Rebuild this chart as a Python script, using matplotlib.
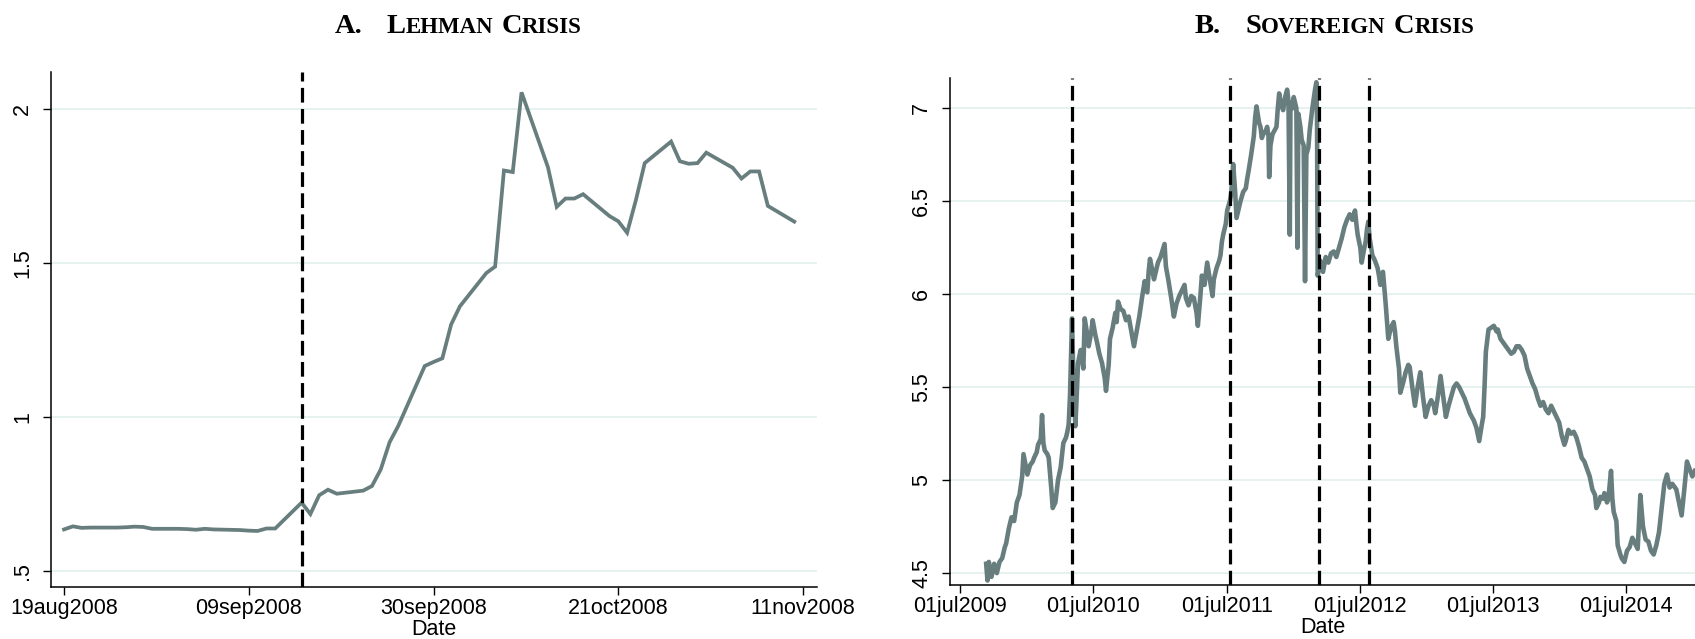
import matplotlib
matplotlib.use("Agg")
import matplotlib.pyplot as plt
from datetime import datetime, timedelta

# ---------------- Panel A data (Lehman crisis) ----------------
a_dates = ["2008-08-19", "2008-08-20", "2008-08-21", "2008-08-22", "2008-08-25",
           "2008-08-26", "2008-08-27", "2008-08-28", "2008-08-29", "2008-09-01",
           "2008-09-02", "2008-09-03", "2008-09-04", "2008-09-05", "2008-09-08",
           "2008-09-09", "2008-09-10", "2008-09-11", "2008-09-12", "2008-09-15",
           "2008-09-16", "2008-09-17", "2008-09-18", "2008-09-19", "2008-09-22",
           "2008-09-23", "2008-09-24", "2008-09-25", "2008-09-26", "2008-09-29",
           "2008-09-30", "2008-10-01", "2008-10-02", "2008-10-03", "2008-10-06",
           "2008-10-07", "2008-10-08", "2008-10-09", "2008-10-10", "2008-10-13",
           "2008-10-14", "2008-10-15", "2008-10-16", "2008-10-17", "2008-10-20",
           "2008-10-21", "2008-10-22", "2008-10-23", "2008-10-24", "2008-10-27",
           "2008-10-28", "2008-10-29", "2008-10-30", "2008-10-31", "2008-11-03",
           "2008-11-04", "2008-11-05", "2008-11-06", "2008-11-07", "2008-11-10"]
a_values = [0.634, 0.644, 0.639, 0.640, 0.640, 0.641, 0.643, 0.642, 0.636, 0.636,
            0.635, 0.633, 0.636, 0.634, 0.632, 0.630, 0.629, 0.637, 0.637, 0.721,
            0.684, 0.745, 0.763, 0.750, 0.760, 0.775, 0.829, 0.917, 0.971, 1.165,
            1.178, 1.190, 1.300, 1.359, 1.467, 1.488, 1.800, 1.795, 2.054, 1.811,
            1.682, 1.709, 1.709, 1.723, 1.652, 1.635, 1.598, 1.704, 1.824, 1.894,
            1.830, 1.822, 1.824, 1.858, 1.809, 1.774, 1.797, 1.797, 1.685, 1.634]
a_events = ["2008-09-15"]
a_xticks = ["2008-08-19", "2008-09-09", "2008-09-30", "2008-10-21", "2008-11-11"]
a_xticklabels = ["19aug2008", "09sep2008", "30sep2008", "21oct2008", "11nov2008"]
a_yticks = [0.5, 1.0, 1.5, 2.0]
a_yticklabels = [".5", "1", "1.5", "2"]
a_xlim = ["2008-08-17 12:00", "2008-11-12 14:00"]
a_ylim = [0.447, 2.12]

# ---------------- Panel B data (Sovereign crisis) ----------------
b_years = [2009.69, 2009.70, 2009.71, 2009.73, 2009.75, 2009.77, 2009.79, 2009.81, 2009.83, 2009.84,
           2009.86, 2009.88, 2009.90, 2009.92, 2009.94, 2009.96, 2009.97, 2010.00, 2010.02, 2010.04,
           2010.05, 2010.07, 2010.08, 2010.10, 2010.11, 2010.12, 2010.13, 2010.15, 2010.16, 2010.18,
           2010.19, 2010.21, 2010.23, 2010.25, 2010.27, 2010.29, 2010.30, 2010.31, 2010.32, 2010.335,
           2010.345, 2010.36, 2010.37, 2010.38, 2010.40, 2010.42, 2010.43, 2010.45, 2010.46, 2010.48,
           2010.49, 2010.51, 2010.52, 2010.54, 2010.56, 2010.58, 2010.59, 2010.61, 2010.62, 2010.64,
           2010.66, 2010.67, 2010.68, 2010.70, 2010.72, 2010.74, 2010.76, 2010.78, 2010.80, 2010.82,
           2010.84, 2010.86, 2010.88, 2010.89, 2010.90, 2010.91, 2010.92, 2010.94, 2010.95, 2010.97,
           2010.98, 2011.00, 2011.03, 2011.04, 2011.06, 2011.08, 2011.10, 2011.12, 2011.14, 2011.16,
           2011.18, 2011.19, 2011.21, 2011.23, 2011.25, 2011.27, 2011.28, 2011.30, 2011.31, 2011.33,
           2011.35, 2011.37, 2011.39, 2011.40, 2011.42, 2011.44, 2011.45, 2011.46, 2011.47, 2011.49,
           2011.50, 2011.52, 2011.53, 2011.545, 2011.56, 2011.57, 2011.59, 2011.60, 2011.62, 2011.64,
           2011.65, 2011.66, 2011.68, 2011.70, 2011.71, 2011.72, 2011.74, 2011.75, 2011.76, 2011.77,
           2011.79, 2011.80, 2011.81, 2011.815, 2011.825, 2011.84, 2011.855, 2011.87, 2011.88, 2011.89,
           2011.905, 2011.92, 2011.935, 2011.95, 2011.96, 2011.97, 2011.975, 2011.99, 2012.00, 2012.02,
           2012.028, 2012.035, 2012.05, 2012.06, 2012.075, 2012.085, 2012.095, 2012.11, 2012.12, 2012.13,
           2012.14, 2012.15, 2012.16, 2012.17, 2012.175, 2012.18, 2012.20, 2012.22, 2012.24, 2012.26,
           2012.28, 2012.30, 2012.32, 2012.34, 2012.36, 2012.38, 2012.40, 2012.42, 2012.44, 2012.46,
           2012.47, 2012.48, 2012.50, 2012.51, 2012.53, 2012.54, 2012.55, 2012.56, 2012.57, 2012.59,
           2012.61, 2012.63, 2012.64, 2012.65, 2012.66, 2012.67, 2012.69, 2012.71, 2012.73, 2012.75,
           2012.76, 2012.77, 2012.79, 2012.80, 2012.82, 2012.84, 2012.86, 2012.87, 2012.89, 2012.91,
           2012.93, 2012.95, 2012.97, 2012.99, 2013.01, 2013.03, 2013.05, 2013.06, 2013.08, 2013.10,
           2013.12, 2013.14, 2013.16, 2013.18, 2013.20, 2013.22, 2013.24, 2013.26, 2013.28, 2013.30,
           2013.32, 2013.35, 2013.37, 2013.39, 2013.41, 2013.42, 2013.43, 2013.44, 2013.45, 2013.46,
           2013.48, 2013.50, 2013.52, 2013.53, 2013.55, 2013.57, 2013.59, 2013.61, 2013.63, 2013.65,
           2013.67, 2013.69, 2013.71, 2013.73, 2013.75, 2013.77, 2013.79, 2013.81, 2013.83, 2013.85,
           2013.87, 2013.89, 2013.91, 2013.93, 2013.95, 2013.97, 2013.99, 2014.01, 2014.03, 2014.04,
           2014.06, 2014.08, 2014.10, 2014.12, 2014.14, 2014.16, 2014.18, 2014.20, 2014.22, 2014.24,
           2014.26, 2014.27, 2014.29, 2014.30, 2014.32, 2014.33, 2014.35, 2014.36, 2014.38, 2014.39,
           2014.40, 2014.42, 2014.43, 2014.45, 2014.46, 2014.48, 2014.50, 2014.52, 2014.54, 2014.56,
           2014.58, 2014.60, 2014.62, 2014.64, 2014.66, 2014.68, 2014.70, 2014.72, 2014.74, 2014.76,
           2014.78, 2014.80, 2014.82, 2014.84, 2014.87, 2014.89, 2014.91, 2014.93, 2014.95, 2014.96,
           2014.99, 2015.01]
b_values = [4.55, 4.46, 4.56, 4.48, 4.55, 4.50, 4.56, 4.58, 4.64, 4.66,
            4.74, 4.80, 4.78, 4.88, 4.92, 5.02, 5.14, 5.03, 5.08, 5.10,
            5.12, 5.15, 5.19, 5.22, 5.35, 5.20, 5.16, 5.14, 5.12, 4.95,
            4.85, 4.88, 5.00, 5.07, 5.20, 5.23, 5.26, 5.30, 5.46, 5.87,
            5.55, 5.29, 5.45, 5.63, 5.70, 5.60, 5.87, 5.78, 5.72, 5.80,
            5.86, 5.78, 5.75, 5.68, 5.63, 5.55, 5.48, 5.62, 5.76, 5.82,
            5.90, 5.85, 5.96, 5.92, 5.91, 5.86, 5.88, 5.80, 5.72, 5.80,
            5.88, 5.98, 6.07, 6.02, 6.01, 6.12, 6.19, 6.12, 6.08, 6.14,
            6.17, 6.20, 6.27, 6.15, 6.07, 5.98, 5.88, 5.95, 5.99, 6.02,
            6.05, 5.98, 5.94, 5.99, 5.98, 5.90, 5.83, 6.00, 6.10, 6.05,
            6.17, 6.08, 5.99, 6.08, 6.14, 6.18, 6.21, 6.28, 6.32, 6.38,
            6.45, 6.50, 6.54, 6.70, 6.55, 6.41, 6.47, 6.50, 6.55, 6.57,
            6.62, 6.66, 6.75, 6.85, 6.95, 7.01, 6.92, 6.90, 6.84, 6.86,
            6.88, 6.90, 6.85, 6.63, 6.80, 6.86, 6.88, 6.90, 7.00, 7.08,
            7.02, 6.99, 7.06, 7.10, 7.04, 6.32, 7.03, 7.00, 7.06, 7.00,
            6.25, 6.97, 6.90, 6.83, 6.80, 6.07, 6.75, 6.79, 6.88, 6.94,
            7.00, 7.05, 7.10, 7.14, 6.95, 6.10, 6.18, 6.12, 6.20, 6.17,
            6.22, 6.23, 6.20, 6.25, 6.30, 6.36, 6.40, 6.43, 6.40, 6.45,
            6.38, 6.32, 6.25, 6.17, 6.25, 6.28, 6.35, 6.39, 6.30, 6.21,
            6.18, 6.14, 6.10, 6.05, 6.10, 6.12, 5.95, 5.76, 5.82, 5.85,
            5.80, 5.72, 5.60, 5.47, 5.52, 5.58, 5.62, 5.61, 5.50, 5.40,
            5.50, 5.58, 5.45, 5.34, 5.40, 5.43, 5.40, 5.36, 5.45, 5.56,
            5.45, 5.34, 5.40, 5.45, 5.50, 5.52, 5.50, 5.47, 5.44, 5.40,
            5.36, 5.32, 5.28, 5.21, 5.30, 5.34, 5.50, 5.69, 5.75, 5.81,
            5.82, 5.83, 5.80, 5.81, 5.76, 5.74, 5.72, 5.70, 5.68, 5.69,
            5.72, 5.72, 5.70, 5.67, 5.60, 5.56, 5.52, 5.49, 5.44, 5.40,
            5.42, 5.38, 5.36, 5.40, 5.37, 5.34, 5.31, 5.24, 5.19, 5.21,
            5.27, 5.25, 5.26, 5.23, 5.18, 5.12, 5.10, 5.06, 5.02, 4.95,
            4.92, 4.85, 4.88, 4.91, 4.90, 4.93, 4.88, 4.90, 5.05, 4.90,
            4.83, 4.78, 4.65, 4.60, 4.58, 4.56, 4.62, 4.64, 4.69, 4.66,
            4.63, 4.92, 4.75, 4.68, 4.67, 4.62, 4.60, 4.65, 4.72, 4.85,
            4.98, 5.03, 4.96, 4.98, 4.95, 4.88, 4.81, 4.95, 5.10, 5.08,
            5.02, 5.05]
b_events = ["2010-05-02", "2011-07-11", "2012-03-09", "2012-07-26"]
b_xticks = ["2009-07-01", "2010-07-01", "2011-07-01", "2012-07-01", "2013-07-01", "2014-07-01"]
b_xticklabels = ["01jul2009", "01jul2010", "01jul2011", "01jul2012", "01jul2013", "01jul2014"]
b_yticks = [4.5, 5.0, 5.5, 6.0, 6.5, 7.0]
b_yticklabels = ["4.5", "5", "5.5", "6", "6.5", "7"]
b_xlim = ["2009-06-03", "2015-01-05"]
b_ylim = [4.436, 7.163]

LINE_COLOR = "#687e7e"
GRID_COLOR = "#e4f1ef"


def to_dt(s):
    return datetime.fromisoformat(s)


def year_to_dt(y):
    yr = int(y)
    return datetime(yr, 1, 1) + timedelta(days=(y - yr) * 365.25)


plt.rcParams["font.family"] = ["Liberation Sans", "DejaVu Sans"]

fig = plt.figure(figsize=(16.95, 6.39), dpi=100)
axA = fig.add_axes([0.0300, 0.0814, 0.4520, 0.8059])
axB = fig.add_axes([0.5605, 0.0845, 0.4395, 0.7935])


def style(ax, xticks, xlabels, yticks, ylabels, xlim, ylim):
    for s in ("top", "right"):
        ax.spines[s].set_visible(False)
    for s in ("left", "bottom"):
        ax.spines[s].set_linewidth(1.1)
        ax.spines[s].set_color("black")
    ax.set_xticks([to_dt(d) for d in xticks])
    ax.set_xticklabels(xlabels, fontsize=15.5)
    ax.set_yticks(yticks)
    ax.set_yticklabels(ylabels, fontsize=15.5, rotation=90, va="center")
    ax.tick_params(axis="both", direction="out", length=5.8, width=1.0, color="black")
    ax.tick_params(axis="y", pad=7)
    ax.tick_params(axis="x", pad=2)
    ax.set_xlim(to_dt(xlim[0]), to_dt(xlim[1]))
    ax.set_ylim(*ylim)
    ax.yaxis.grid(True, color=GRID_COLOR, lw=1.3)
    ax.set_axisbelow(True)
    ax.set_xlabel("Date", fontsize=15.5, labelpad=0)


# Panel A
axA.plot([to_dt(d) for d in a_dates], a_values, color=LINE_COLOR, lw=2.7,
         solid_joinstyle="miter", zorder=3)
for d in a_events:
    axA.axvline(to_dt(d), color="black", lw=2.3, dashes=(4.6, 2.0), zorder=4)
style(axA, a_xticks, a_xticklabels, a_yticks, a_yticklabels, a_xlim, a_ylim)

# Panel B
axB.plot([year_to_dt(y) for y in b_years], b_values, color=LINE_COLOR, lw=3.3,
         zorder=3)
for d in b_events:
    axB.axvline(to_dt(d), color="black", lw=2.3, dashes=(4.6, 2.0), zorder=4)
style(axB, b_xticks, b_xticklabels, b_yticks, b_yticklabels, b_xlim, b_ylim)

# Titles with small caps built from pieces
renderer = fig.canvas.get_renderer()
BIG, SMALL = 20.5, 16.5
W, H = fig.get_size_inches() * fig.dpi


def small_caps_title(x_px, base_px, pieces):
    x = x_px
    for text, size, gap in pieces:
        x += gap
        t = fig.text(x / W, 1 - base_px / H, text, fontsize=size, fontweight="bold",
                     family="Liberation Serif", va="baseline", ha="left")
        x += t.get_window_extent(renderer).width


small_caps_title(335, 33, [("A.", BIG, 0), ("L", BIG, 24), ("EHMAN", SMALL, 0),
                           ("C", BIG, 8), ("RISIS", SMALL, 0)])
small_caps_title(1195, 33, [("B.", BIG, 0), ("S", BIG, 24), ("OVEREIGN", SMALL, 0),
                            ("C", BIG, 8), ("RISIS", SMALL, 0)])

fig.savefig("out.png", dpi=100)
